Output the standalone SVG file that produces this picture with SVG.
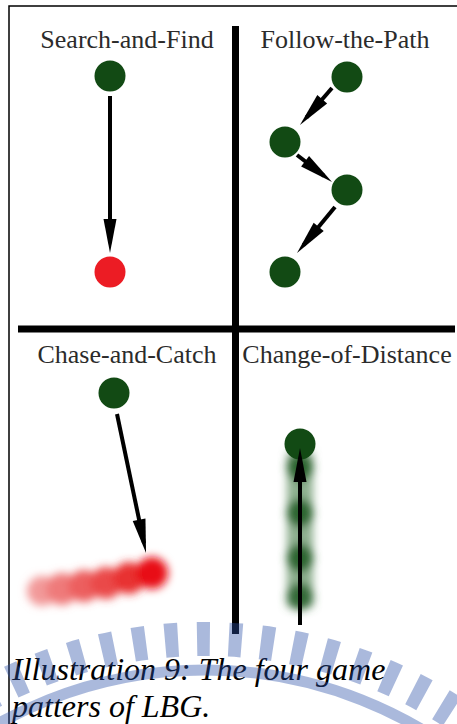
<svg xmlns="http://www.w3.org/2000/svg" width="457" height="724" viewBox="0 0 457 724">
<style>
.title{font-family:"Liberation Serif","Times New Roman",serif;font-size:26px;fill:#2b2b2b;text-anchor:middle}
.cap{font-family:"Liberation Serif","Times New Roman",serif;font-size:32px;font-style:italic;fill:#000}
.node{fill:#124a14}
.target{fill:#ec1c24}
.arrow{stroke:#000;stroke-width:4;fill:none;marker-end:url(#ah)}
.divider{stroke:#000;stroke-width:7}
.frame{stroke:#000;stroke-width:1.5;fill:none}
</style>
<defs>
<marker id="ah" markerUnits="userSpaceOnUse" markerWidth="34" markerHeight="13" refX="24" refY="6.5" orient="auto" overflow="visible">
<path d="M0,0 L34,6.5 L0,13 z" fill="#000"/>
</marker>
<filter id="blur" x="-50%" y="-50%" width="200%" height="200%"><feGaussianBlur stdDeviation="4"/></filter>
</defs>
<rect width="457" height="724" fill="#fff"/>
<path class="frame" d="M9,724 V6 H457"/>
<g id="dividers">
<line class="divider" x1="235.5" y1="26" x2="235.5" y2="634"/>
<line class="divider" x1="18" y1="329" x2="455" y2="329"/>
</g>
<g id="titles">
<text class="title" x="127" y="48">Search-and-Find</text>
<text class="title" x="345" y="48">Follow-the-Path</text>
<text class="title" x="127" y="363">Chase-and-Catch</text>
<text class="title" x="347" y="363">Change-of-Distance</text>
</g>
<g id="smears">
<g filter="url(#blur)">
<circle cx="42" cy="591" r="15" fill="#f29a9a"/>
<circle cx="62" cy="589" r="16" fill="#ef7a7a"/>
<circle cx="84" cy="586" r="16" fill="#ec5e5e"/>
<circle cx="106" cy="583" r="16" fill="#ea4848"/>
<circle cx="129" cy="578" r="16" fill="#e83030"/>
<circle cx="152" cy="573" r="16" fill="#e80e14"/>
</g>
<g filter="url(#blur)" fill="#1e5a22">
<rect x="287" y="452" width="26" height="155" fill="#6f9a72" opacity="0.8"/>
<circle cx="300" cy="467" r="13.5" opacity="0.85"/>
<circle cx="300" cy="513" r="13.5" opacity="0.85"/>
<circle cx="300" cy="558" r="13.5" opacity="0.85"/>
<circle cx="300" cy="597" r="13.5" opacity="0.8"/>
</g>
</g>
<g id="n-search-start"><circle class="node" cx="110" cy="76" r="15.5"/></g>
<g id="n-search-target"><circle class="target" cx="110" cy="272" r="15.5"/></g>
<g id="n-path-1"><circle class="node" cx="347" cy="77" r="15.5"/></g>
<g id="n-path-2"><circle class="node" cx="285" cy="142" r="15.5"/></g>
<g id="n-path-3"><circle class="node" cx="347" cy="190" r="15.5"/></g>
<g id="n-path-4"><circle class="node" cx="285" cy="272" r="15.5"/></g>
<g id="n-chase"><circle class="node" cx="114" cy="393" r="15.5"/></g>
<g id="n-distance"><circle class="node" cx="300" cy="444" r="15.5"/></g>
<g id="connectors">
<line class="arrow" x1="110" y1="96" x2="110" y2="243"/>
<line class="arrow" x1="332" y1="88" x2="306.5" y2="117.4"/>
<line class="arrow" x1="297" y1="155" x2="324.1" y2="175.9"/>
<line class="arrow" x1="335" y1="207" x2="303.4" y2="245.3"/>
<line class="arrow" x1="117" y1="414" x2="144" y2="543.2"/>
<line class="arrow" x1="300" y1="625" x2="300" y2="458"/>
</g>
<g id="caption">
<text class="cap" x="12" y="680">Illustration 9: The four game</text>
<text class="cap" x="12" y="717">patters of LBG.</text>
</g>
<g id="watermark" fill="none" stroke="#2a50a7" stroke-opacity="0.4">
<circle cx="205" cy="1095" r="456" stroke-width="34" stroke-dasharray="13 19" stroke-dashoffset="3.6"/>
<circle cx="205" cy="1095" r="425" stroke-width="11"/>
</g>
</svg>
